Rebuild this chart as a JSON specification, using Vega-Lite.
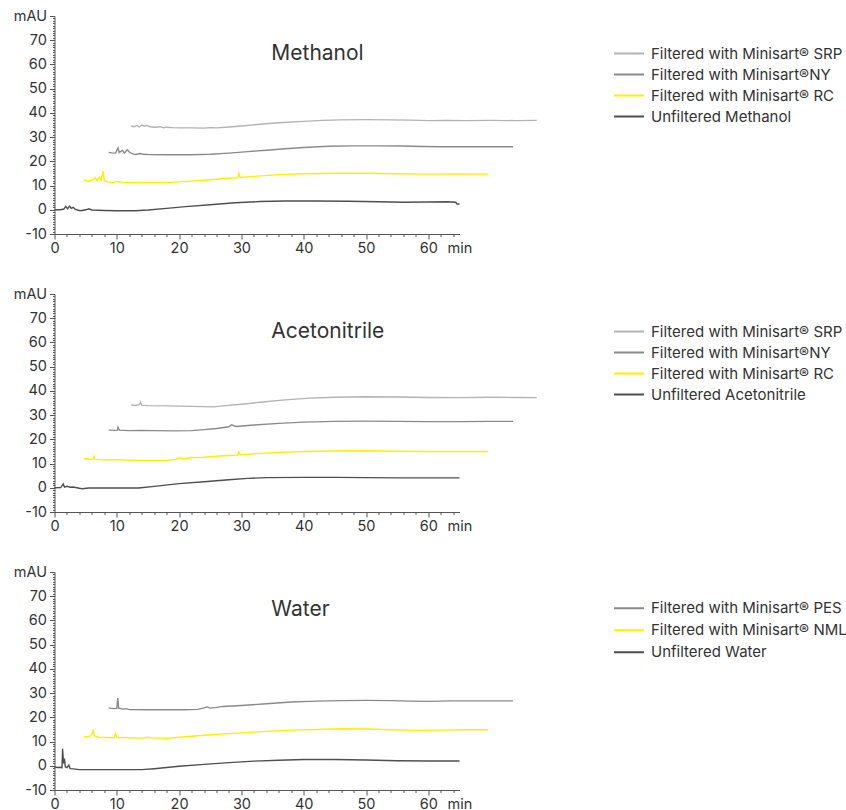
{
  "$schema": "https://vega.github.io/schema/vega-lite/v6.json",
  "padding": {"left": 12.5, "top": 8, "right": 0, "bottom": 4},
  "background": "white",
  "config": {
    "font": "Inter",
    "view": {"stroke": null},
    "axis": {"labelFont": "Inter", "labelFontSize": 14.5, "labelColor": "#333333", "domainColor": "#555555", "tickColor": "#555555", "grid": false, "title": null, "labelOverlap": false, "labelFlush": false},
    "legend": {"labelFont": "Inter", "labelFontSize": 15, "labelColor": "#333333", "labelLimit": 0}
  },
  "datasets": {
    "chrom": [
      {"panel":"Methanol","series":"Filtered with Minisart® SRP","time":12.3,"mAU":34.6},
      {"panel":"Methanol","series":"Filtered with Minisart® SRP","time":12.8,"mAU":34.3},
      {"panel":"Methanol","series":"Filtered with Minisart® SRP","time":13.2,"mAU":34.8},
      {"panel":"Methanol","series":"Filtered with Minisart® SRP","time":13.6,"mAU":34.2},
      {"panel":"Methanol","series":"Filtered with Minisart® SRP","time":14.0,"mAU":35.0},
      {"panel":"Methanol","series":"Filtered with Minisart® SRP","time":14.4,"mAU":34.4},
      {"panel":"Methanol","series":"Filtered with Minisart® SRP","time":14.8,"mAU":34.9},
      {"panel":"Methanol","series":"Filtered with Minisart® SRP","time":15.3,"mAU":34.3},
      {"panel":"Methanol","series":"Filtered with Minisart® SRP","time":16,"mAU":34.1},
      {"panel":"Methanol","series":"Filtered with Minisart® SRP","time":17,"mAU":34.3},
      {"panel":"Methanol","series":"Filtered with Minisart® SRP","time":17.5,"mAU":33.9},
      {"panel":"Methanol","series":"Filtered with Minisart® SRP","time":18,"mAU":34.1},
      {"panel":"Methanol","series":"Filtered with Minisart® SRP","time":19,"mAU":33.9},
      {"panel":"Methanol","series":"Filtered with Minisart® SRP","time":20,"mAU":33.8},
      {"panel":"Methanol","series":"Filtered with Minisart® SRP","time":22,"mAU":33.8},
      {"panel":"Methanol","series":"Filtered with Minisart® SRP","time":24,"mAU":33.7},
      {"panel":"Methanol","series":"Filtered with Minisart® SRP","time":25,"mAU":33.9},
      {"panel":"Methanol","series":"Filtered with Minisart® SRP","time":26,"mAU":33.8},
      {"panel":"Methanol","series":"Filtered with Minisart® SRP","time":28,"mAU":34.2},
      {"panel":"Methanol","series":"Filtered with Minisart® SRP","time":30,"mAU":34.6},
      {"panel":"Methanol","series":"Filtered with Minisart® SRP","time":33,"mAU":35.3},
      {"panel":"Methanol","series":"Filtered with Minisart® SRP","time":36,"mAU":35.9},
      {"panel":"Methanol","series":"Filtered with Minisart® SRP","time":40,"mAU":36.5},
      {"panel":"Methanol","series":"Filtered with Minisart® SRP","time":43,"mAU":36.9},
      {"panel":"Methanol","series":"Filtered with Minisart® SRP","time":46,"mAU":37.1},
      {"panel":"Methanol","series":"Filtered with Minisart® SRP","time":50,"mAU":37.2},
      {"panel":"Methanol","series":"Filtered with Minisart® SRP","time":54,"mAU":37.1},
      {"panel":"Methanol","series":"Filtered with Minisart® SRP","time":57,"mAU":37.0},
      {"panel":"Methanol","series":"Filtered with Minisart® SRP","time":60,"mAU":36.8},
      {"panel":"Methanol","series":"Filtered with Minisart® SRP","time":63,"mAU":36.9},
      {"panel":"Methanol","series":"Filtered with Minisart® SRP","time":66,"mAU":36.8},
      {"panel":"Methanol","series":"Filtered with Minisart® SRP","time":70,"mAU":36.9},
      {"panel":"Methanol","series":"Filtered with Minisart® SRP","time":74,"mAU":36.8},
      {"panel":"Methanol","series":"Filtered with Minisart® SRP","time":77.4,"mAU":36.9},

      {"panel":"Methanol","series":"Filtered with Minisart®NY","time":8.7,"mAU":23.7},
      {"panel":"Methanol","series":"Filtered with Minisart®NY","time":9.2,"mAU":23.5},
      {"panel":"Methanol","series":"Filtered with Minisart®NY","time":9.8,"mAU":23.4},
      {"panel":"Methanol","series":"Filtered with Minisart®NY","time":10.2,"mAU":25.5},
      {"panel":"Methanol","series":"Filtered with Minisart®NY","time":10.4,"mAU":23.6},
      {"panel":"Methanol","series":"Filtered with Minisart®NY","time":10.9,"mAU":24.6},
      {"panel":"Methanol","series":"Filtered with Minisart®NY","time":11.2,"mAU":23.4},
      {"panel":"Methanol","series":"Filtered with Minisart®NY","time":11.7,"mAU":24.8},
      {"panel":"Methanol","series":"Filtered with Minisart®NY","time":12.1,"mAU":23.6},
      {"panel":"Methanol","series":"Filtered with Minisart®NY","time":12.5,"mAU":23.2},
      {"panel":"Methanol","series":"Filtered with Minisart®NY","time":13,"mAU":22.8},
      {"panel":"Methanol","series":"Filtered with Minisart®NY","time":13.8,"mAU":23.2},
      {"panel":"Methanol","series":"Filtered with Minisart®NY","time":14.2,"mAU":22.9},
      {"panel":"Methanol","series":"Filtered with Minisart®NY","time":15,"mAU":22.8},
      {"panel":"Methanol","series":"Filtered with Minisart®NY","time":18,"mAU":22.7},
      {"panel":"Methanol","series":"Filtered with Minisart®NY","time":22,"mAU":22.7},
      {"panel":"Methanol","series":"Filtered with Minisart®NY","time":25,"mAU":22.9},
      {"panel":"Methanol","series":"Filtered with Minisart®NY","time":28,"mAU":23.4},
      {"panel":"Methanol","series":"Filtered with Minisart®NY","time":31,"mAU":24.0},
      {"panel":"Methanol","series":"Filtered with Minisart®NY","time":34,"mAU":24.6},
      {"panel":"Methanol","series":"Filtered with Minisart®NY","time":37,"mAU":25.2},
      {"panel":"Methanol","series":"Filtered with Minisart®NY","time":40,"mAU":25.7},
      {"panel":"Methanol","series":"Filtered with Minisart®NY","time":44,"mAU":26.2},
      {"panel":"Methanol","series":"Filtered with Minisart®NY","time":48,"mAU":26.4},
      {"panel":"Methanol","series":"Filtered with Minisart®NY","time":52,"mAU":26.4},
      {"panel":"Methanol","series":"Filtered with Minisart®NY","time":56,"mAU":26.3},
      {"panel":"Methanol","series":"Filtered with Minisart®NY","time":59,"mAU":26.1},
      {"panel":"Methanol","series":"Filtered with Minisart®NY","time":62,"mAU":26.0},
      {"panel":"Methanol","series":"Filtered with Minisart®NY","time":66,"mAU":26.0},
      {"panel":"Methanol","series":"Filtered with Minisart®NY","time":70,"mAU":26.0},
      {"panel":"Methanol","series":"Filtered with Minisart®NY","time":73.6,"mAU":26.0},

      {"panel":"Methanol","series":"Filtered with Minisart® RC","time":4.7,"mAU":12.3},
      {"panel":"Methanol","series":"Filtered with Minisart® RC","time":5.5,"mAU":11.8},
      {"panel":"Methanol","series":"Filtered with Minisart® RC","time":6.3,"mAU":12.5},
      {"panel":"Methanol","series":"Filtered with Minisart® RC","time":6.5,"mAU":13.3},
      {"panel":"Methanol","series":"Filtered with Minisart® RC","time":6.8,"mAU":12.0},
      {"panel":"Methanol","series":"Filtered with Minisart® RC","time":7.2,"mAU":13.4},
      {"panel":"Methanol","series":"Filtered with Minisart® RC","time":7.5,"mAU":12.2},
      {"panel":"Methanol","series":"Filtered with Minisart® RC","time":7.8,"mAU":16.0},
      {"panel":"Methanol","series":"Filtered with Minisart® RC","time":8.0,"mAU":12.0},
      {"panel":"Methanol","series":"Filtered with Minisart® RC","time":8.5,"mAU":11.5},
      {"panel":"Methanol","series":"Filtered with Minisart® RC","time":9.5,"mAU":11.2},
      {"panel":"Methanol","series":"Filtered with Minisart® RC","time":10,"mAU":11.7},
      {"panel":"Methanol","series":"Filtered with Minisart® RC","time":11,"mAU":11.3},
      {"panel":"Methanol","series":"Filtered with Minisart® RC","time":15,"mAU":11.2},
      {"panel":"Methanol","series":"Filtered with Minisart® RC","time":18,"mAU":11.2},
      {"panel":"Methanol","series":"Filtered with Minisart® RC","time":20,"mAU":11.5},
      {"panel":"Methanol","series":"Filtered with Minisart® RC","time":24,"mAU":12.2},
      {"panel":"Methanol","series":"Filtered with Minisart® RC","time":28,"mAU":13.0},
      {"panel":"Methanol","series":"Filtered with Minisart® RC","time":29.4,"mAU":13.2},
      {"panel":"Methanol","series":"Filtered with Minisart® RC","time":29.6,"mAU":15.0},
      {"panel":"Methanol","series":"Filtered with Minisart® RC","time":29.8,"mAU":13.3},
      {"panel":"Methanol","series":"Filtered with Minisart® RC","time":32,"mAU":13.8},
      {"panel":"Methanol","series":"Filtered with Minisart® RC","time":36,"mAU":14.5},
      {"panel":"Methanol","series":"Filtered with Minisart® RC","time":40,"mAU":14.9},
      {"panel":"Methanol","series":"Filtered with Minisart® RC","time":45,"mAU":15.1},
      {"panel":"Methanol","series":"Filtered with Minisart® RC","time":50,"mAU":15.1},
      {"panel":"Methanol","series":"Filtered with Minisart® RC","time":55,"mAU":14.9},
      {"panel":"Methanol","series":"Filtered with Minisart® RC","time":60,"mAU":14.7},
      {"panel":"Methanol","series":"Filtered with Minisart® RC","time":64,"mAU":14.8},
      {"panel":"Methanol","series":"Filtered with Minisart® RC","time":69.6,"mAU":14.7},

      {"panel":"Methanol","series":"Unfiltered Methanol","time":0,"mAU":0},
      {"panel":"Methanol","series":"Unfiltered Methanol","time":1,"mAU":0},
      {"panel":"Methanol","series":"Unfiltered Methanol","time":1.5,"mAU":0.3},
      {"panel":"Methanol","series":"Unfiltered Methanol","time":1.8,"mAU":1.4},
      {"panel":"Methanol","series":"Unfiltered Methanol","time":2.1,"mAU":0.4},
      {"panel":"Methanol","series":"Unfiltered Methanol","time":2.4,"mAU":1.5},
      {"panel":"Methanol","series":"Unfiltered Methanol","time":2.7,"mAU":0.6},
      {"panel":"Methanol","series":"Unfiltered Methanol","time":3.0,"mAU":1.0},
      {"panel":"Methanol","series":"Unfiltered Methanol","time":3.3,"mAU":0.3},
      {"panel":"Methanol","series":"Unfiltered Methanol","time":3.8,"mAU":-0.2},
      {"panel":"Methanol","series":"Unfiltered Methanol","time":4.2,"mAU":-0.4},
      {"panel":"Methanol","series":"Unfiltered Methanol","time":4.6,"mAU":-0.2},
      {"panel":"Methanol","series":"Unfiltered Methanol","time":5.2,"mAU":0.1},
      {"panel":"Methanol","series":"Unfiltered Methanol","time":5.5,"mAU":0.4},
      {"panel":"Methanol","series":"Unfiltered Methanol","time":6,"mAU":-0.1},
      {"panel":"Methanol","series":"Unfiltered Methanol","time":8,"mAU":-0.3},
      {"panel":"Methanol","series":"Unfiltered Methanol","time":10,"mAU":-0.4},
      {"panel":"Methanol","series":"Unfiltered Methanol","time":13,"mAU":-0.4},
      {"panel":"Methanol","series":"Unfiltered Methanol","time":15,"mAU":-0.1},
      {"panel":"Methanol","series":"Unfiltered Methanol","time":18,"mAU":0.6},
      {"panel":"Methanol","series":"Unfiltered Methanol","time":21,"mAU":1.3},
      {"panel":"Methanol","series":"Unfiltered Methanol","time":25,"mAU":2.1},
      {"panel":"Methanol","series":"Unfiltered Methanol","time":29,"mAU":2.9},
      {"panel":"Methanol","series":"Unfiltered Methanol","time":33,"mAU":3.4},
      {"panel":"Methanol","series":"Unfiltered Methanol","time":37,"mAU":3.6},
      {"panel":"Methanol","series":"Unfiltered Methanol","time":42,"mAU":3.6},
      {"panel":"Methanol","series":"Unfiltered Methanol","time":47,"mAU":3.5},
      {"panel":"Methanol","series":"Unfiltered Methanol","time":52,"mAU":3.3},
      {"panel":"Methanol","series":"Unfiltered Methanol","time":56,"mAU":3.1},
      {"panel":"Methanol","series":"Unfiltered Methanol","time":60,"mAU":3.2},
      {"panel":"Methanol","series":"Unfiltered Methanol","time":63,"mAU":3.3},
      {"panel":"Methanol","series":"Unfiltered Methanol","time":64.4,"mAU":3.1},
      {"panel":"Methanol","series":"Unfiltered Methanol","time":64.6,"mAU":2.4},
      {"panel":"Methanol","series":"Unfiltered Methanol","time":65,"mAU":2.4},

      {"panel":"Acetonitrile","series":"Filtered with Minisart® SRP","time":12.3,"mAU":34.2},
      {"panel":"Acetonitrile","series":"Filtered with Minisart® SRP","time":13,"mAU":34.0},
      {"panel":"Acetonitrile","series":"Filtered with Minisart® SRP","time":13.6,"mAU":34.3},
      {"panel":"Acetonitrile","series":"Filtered with Minisart® SRP","time":13.8,"mAU":35.4},
      {"panel":"Acetonitrile","series":"Filtered with Minisart® SRP","time":14,"mAU":34.1},
      {"panel":"Acetonitrile","series":"Filtered with Minisart® SRP","time":15,"mAU":33.9},
      {"panel":"Acetonitrile","series":"Filtered with Minisart® SRP","time":18,"mAU":33.8},
      {"panel":"Acetonitrile","series":"Filtered with Minisart® SRP","time":22,"mAU":33.6},
      {"panel":"Acetonitrile","series":"Filtered with Minisart® SRP","time":25.5,"mAU":33.4},
      {"panel":"Acetonitrile","series":"Filtered with Minisart® SRP","time":27,"mAU":33.8},
      {"panel":"Acetonitrile","series":"Filtered with Minisart® SRP","time":30,"mAU":34.5},
      {"panel":"Acetonitrile","series":"Filtered with Minisart® SRP","time":33,"mAU":35.3},
      {"panel":"Acetonitrile","series":"Filtered with Minisart® SRP","time":37,"mAU":36.3},
      {"panel":"Acetonitrile","series":"Filtered with Minisart® SRP","time":41,"mAU":37.0},
      {"panel":"Acetonitrile","series":"Filtered with Minisart® SRP","time":45,"mAU":37.4},
      {"panel":"Acetonitrile","series":"Filtered with Minisart® SRP","time":50,"mAU":37.6},
      {"panel":"Acetonitrile","series":"Filtered with Minisart® SRP","time":55,"mAU":37.5},
      {"panel":"Acetonitrile","series":"Filtered with Minisart® SRP","time":60,"mAU":37.3},
      {"panel":"Acetonitrile","series":"Filtered with Minisart® SRP","time":65,"mAU":37.2},
      {"panel":"Acetonitrile","series":"Filtered with Minisart® SRP","time":70,"mAU":37.4},
      {"panel":"Acetonitrile","series":"Filtered with Minisart® SRP","time":74,"mAU":37.3},
      {"panel":"Acetonitrile","series":"Filtered with Minisart® SRP","time":77.4,"mAU":37.2},

      {"panel":"Acetonitrile","series":"Filtered with Minisart®NY","time":8.7,"mAU":23.8},
      {"panel":"Acetonitrile","series":"Filtered with Minisart®NY","time":9.5,"mAU":23.7},
      {"panel":"Acetonitrile","series":"Filtered with Minisart®NY","time":10.1,"mAU":23.8},
      {"panel":"Acetonitrile","series":"Filtered with Minisart®NY","time":10.2,"mAU":25.0},
      {"panel":"Acetonitrile","series":"Filtered with Minisart®NY","time":10.4,"mAU":23.8},
      {"panel":"Acetonitrile","series":"Filtered with Minisart®NY","time":12,"mAU":23.6},
      {"panel":"Acetonitrile","series":"Filtered with Minisart®NY","time":14,"mAU":23.7},
      {"panel":"Acetonitrile","series":"Filtered with Minisart®NY","time":16,"mAU":23.6},
      {"panel":"Acetonitrile","series":"Filtered with Minisart®NY","time":19,"mAU":23.5},
      {"panel":"Acetonitrile","series":"Filtered with Minisart®NY","time":22,"mAU":23.6},
      {"panel":"Acetonitrile","series":"Filtered with Minisart®NY","time":24,"mAU":24.0},
      {"panel":"Acetonitrile","series":"Filtered with Minisart®NY","time":26,"mAU":24.5},
      {"panel":"Acetonitrile","series":"Filtered with Minisart®NY","time":28,"mAU":25.2},
      {"panel":"Acetonitrile","series":"Filtered with Minisart®NY","time":28.4,"mAU":26.0},
      {"panel":"Acetonitrile","series":"Filtered with Minisart®NY","time":28.8,"mAU":25.6},
      {"panel":"Acetonitrile","series":"Filtered with Minisart®NY","time":29.2,"mAU":25.3},
      {"panel":"Acetonitrile","series":"Filtered with Minisart®NY","time":32,"mAU":25.9},
      {"panel":"Acetonitrile","series":"Filtered with Minisart®NY","time":36,"mAU":26.6},
      {"panel":"Acetonitrile","series":"Filtered with Minisart®NY","time":40,"mAU":27.1},
      {"panel":"Acetonitrile","series":"Filtered with Minisart®NY","time":45,"mAU":27.4},
      {"panel":"Acetonitrile","series":"Filtered with Minisart®NY","time":50,"mAU":27.5},
      {"panel":"Acetonitrile","series":"Filtered with Minisart®NY","time":55,"mAU":27.4},
      {"panel":"Acetonitrile","series":"Filtered with Minisart®NY","time":60,"mAU":27.3},
      {"panel":"Acetonitrile","series":"Filtered with Minisart®NY","time":65,"mAU":27.3},
      {"panel":"Acetonitrile","series":"Filtered with Minisart®NY","time":70,"mAU":27.4},
      {"panel":"Acetonitrile","series":"Filtered with Minisart®NY","time":73.6,"mAU":27.4},

      {"panel":"Acetonitrile","series":"Filtered with Minisart® RC","time":4.7,"mAU":12.1},
      {"panel":"Acetonitrile","series":"Filtered with Minisart® RC","time":5.5,"mAU":11.8},
      {"panel":"Acetonitrile","series":"Filtered with Minisart® RC","time":6.2,"mAU":11.9},
      {"panel":"Acetonitrile","series":"Filtered with Minisart® RC","time":6.3,"mAU":13.3},
      {"panel":"Acetonitrile","series":"Filtered with Minisart® RC","time":6.5,"mAU":11.7},
      {"panel":"Acetonitrile","series":"Filtered with Minisart® RC","time":8,"mAU":11.5},
      {"panel":"Acetonitrile","series":"Filtered with Minisart® RC","time":10,"mAU":11.6},
      {"panel":"Acetonitrile","series":"Filtered with Minisart® RC","time":13,"mAU":11.3},
      {"panel":"Acetonitrile","series":"Filtered with Minisart® RC","time":18,"mAU":11.3},
      {"panel":"Acetonitrile","series":"Filtered with Minisart® RC","time":19.5,"mAU":11.8},
      {"panel":"Acetonitrile","series":"Filtered with Minisart® RC","time":20,"mAU":12.3},
      {"panel":"Acetonitrile","series":"Filtered with Minisart® RC","time":21,"mAU":12.0},
      {"panel":"Acetonitrile","series":"Filtered with Minisart® RC","time":22,"mAU":12.5},
      {"panel":"Acetonitrile","series":"Filtered with Minisart® RC","time":24,"mAU":12.6},
      {"panel":"Acetonitrile","series":"Filtered with Minisart® RC","time":27,"mAU":13.2},
      {"panel":"Acetonitrile","series":"Filtered with Minisart® RC","time":29.4,"mAU":13.4},
      {"panel":"Acetonitrile","series":"Filtered with Minisart® RC","time":29.6,"mAU":14.9},
      {"panel":"Acetonitrile","series":"Filtered with Minisart® RC","time":29.8,"mAU":13.6},
      {"panel":"Acetonitrile","series":"Filtered with Minisart® RC","time":33,"mAU":14.2},
      {"panel":"Acetonitrile","series":"Filtered with Minisart® RC","time":36,"mAU":14.6},
      {"panel":"Acetonitrile","series":"Filtered with Minisart® RC","time":40,"mAU":15.0},
      {"panel":"Acetonitrile","series":"Filtered with Minisart® RC","time":45,"mAU":15.2},
      {"panel":"Acetonitrile","series":"Filtered with Minisart® RC","time":50,"mAU":15.3},
      {"panel":"Acetonitrile","series":"Filtered with Minisart® RC","time":55,"mAU":15.1},
      {"panel":"Acetonitrile","series":"Filtered with Minisart® RC","time":60,"mAU":15.0},
      {"panel":"Acetonitrile","series":"Filtered with Minisart® RC","time":65,"mAU":15.0},
      {"panel":"Acetonitrile","series":"Filtered with Minisart® RC","time":69.6,"mAU":15.0},

      {"panel":"Acetonitrile","series":"Unfiltered Acetonitrile","time":0,"mAU":0},
      {"panel":"Acetonitrile","series":"Unfiltered Acetonitrile","time":1,"mAU":0.1},
      {"panel":"Acetonitrile","series":"Unfiltered Acetonitrile","time":1.4,"mAU":1.6},
      {"panel":"Acetonitrile","series":"Unfiltered Acetonitrile","time":1.6,"mAU":0.3},
      {"panel":"Acetonitrile","series":"Unfiltered Acetonitrile","time":2,"mAU":0.6},
      {"panel":"Acetonitrile","series":"Unfiltered Acetonitrile","time":2.5,"mAU":0.2},
      {"panel":"Acetonitrile","series":"Unfiltered Acetonitrile","time":3,"mAU":0.3},
      {"panel":"Acetonitrile","series":"Unfiltered Acetonitrile","time":4,"mAU":-0.2},
      {"panel":"Acetonitrile","series":"Unfiltered Acetonitrile","time":4.5,"mAU":-0.4},
      {"panel":"Acetonitrile","series":"Unfiltered Acetonitrile","time":5.5,"mAU":-0.1},
      {"panel":"Acetonitrile","series":"Unfiltered Acetonitrile","time":8,"mAU":-0.1},
      {"panel":"Acetonitrile","series":"Unfiltered Acetonitrile","time":13.5,"mAU":-0.1},
      {"panel":"Acetonitrile","series":"Unfiltered Acetonitrile","time":16,"mAU":0.6},
      {"panel":"Acetonitrile","series":"Unfiltered Acetonitrile","time":20,"mAU":1.7},
      {"panel":"Acetonitrile","series":"Unfiltered Acetonitrile","time":24,"mAU":2.5},
      {"panel":"Acetonitrile","series":"Unfiltered Acetonitrile","time":28,"mAU":3.3},
      {"panel":"Acetonitrile","series":"Unfiltered Acetonitrile","time":31,"mAU":3.9},
      {"panel":"Acetonitrile","series":"Unfiltered Acetonitrile","time":34,"mAU":4.2},
      {"panel":"Acetonitrile","series":"Unfiltered Acetonitrile","time":40,"mAU":4.3},
      {"panel":"Acetonitrile","series":"Unfiltered Acetonitrile","time":45,"mAU":4.3},
      {"panel":"Acetonitrile","series":"Unfiltered Acetonitrile","time":50,"mAU":4.2},
      {"panel":"Acetonitrile","series":"Unfiltered Acetonitrile","time":55,"mAU":4.1},
      {"panel":"Acetonitrile","series":"Unfiltered Acetonitrile","time":60,"mAU":4.1},
      {"panel":"Acetonitrile","series":"Unfiltered Acetonitrile","time":65,"mAU":4.1},

      {"panel":"Water","series":"Filtered with Minisart® PES","time":8.7,"mAU":23.9},
      {"panel":"Water","series":"Filtered with Minisart® PES","time":9.5,"mAU":23.6},
      {"panel":"Water","series":"Filtered with Minisart® PES","time":10.0,"mAU":23.7},
      {"panel":"Water","series":"Filtered with Minisart® PES","time":10.15,"mAU":28.0},
      {"panel":"Water","series":"Filtered with Minisart® PES","time":10.3,"mAU":23.8},
      {"panel":"Water","series":"Filtered with Minisart® PES","time":11,"mAU":23.4},
      {"panel":"Water","series":"Filtered with Minisart® PES","time":11.5,"mAU":23.6},
      {"panel":"Water","series":"Filtered with Minisart® PES","time":12,"mAU":23.2},
      {"panel":"Water","series":"Filtered with Minisart® PES","time":15,"mAU":23.1},
      {"panel":"Water","series":"Filtered with Minisart® PES","time":18,"mAU":23.1},
      {"panel":"Water","series":"Filtered with Minisart® PES","time":21,"mAU":23.1},
      {"panel":"Water","series":"Filtered with Minisart® PES","time":23,"mAU":23.3},
      {"panel":"Water","series":"Filtered with Minisart® PES","time":24,"mAU":23.9},
      {"panel":"Water","series":"Filtered with Minisart® PES","time":24.5,"mAU":24.3},
      {"panel":"Water","series":"Filtered with Minisart® PES","time":25,"mAU":23.8},
      {"panel":"Water","series":"Filtered with Minisart® PES","time":26,"mAU":24.1},
      {"panel":"Water","series":"Filtered with Minisart® PES","time":27,"mAU":24.5},
      {"panel":"Water","series":"Filtered with Minisart® PES","time":30,"mAU":24.9},
      {"panel":"Water","series":"Filtered with Minisart® PES","time":34,"mAU":25.6},
      {"panel":"Water","series":"Filtered with Minisart® PES","time":38,"mAU":26.3},
      {"panel":"Water","series":"Filtered with Minisart® PES","time":42,"mAU":26.7},
      {"panel":"Water","series":"Filtered with Minisart® PES","time":46,"mAU":26.9},
      {"panel":"Water","series":"Filtered with Minisart® PES","time":50,"mAU":27.0},
      {"panel":"Water","series":"Filtered with Minisart® PES","time":54,"mAU":26.9},
      {"panel":"Water","series":"Filtered with Minisart® PES","time":57,"mAU":26.7},
      {"panel":"Water","series":"Filtered with Minisart® PES","time":60,"mAU":26.6},
      {"panel":"Water","series":"Filtered with Minisart® PES","time":64,"mAU":26.8},
      {"panel":"Water","series":"Filtered with Minisart® PES","time":68,"mAU":26.8},
      {"panel":"Water","series":"Filtered with Minisart® PES","time":73.6,"mAU":26.8},

      {"panel":"Water","series":"Filtered with Minisart® NML","time":4.7,"mAU":12.1},
      {"panel":"Water","series":"Filtered with Minisart® NML","time":5.2,"mAU":11.9},
      {"panel":"Water","series":"Filtered with Minisart® NML","time":5.8,"mAU":12.3},
      {"panel":"Water","series":"Filtered with Minisart® NML","time":6.1,"mAU":13.6},
      {"panel":"Water","series":"Filtered with Minisart® NML","time":6.2,"mAU":14.9},
      {"panel":"Water","series":"Filtered with Minisart® NML","time":6.4,"mAU":12.4},
      {"panel":"Water","series":"Filtered with Minisart® NML","time":7,"mAU":11.8},
      {"panel":"Water","series":"Filtered with Minisart® NML","time":8,"mAU":11.7},
      {"panel":"Water","series":"Filtered with Minisart® NML","time":9.6,"mAU":11.6},
      {"panel":"Water","series":"Filtered with Minisart® NML","time":9.8,"mAU":13.3},
      {"panel":"Water","series":"Filtered with Minisart® NML","time":10,"mAU":11.7},
      {"panel":"Water","series":"Filtered with Minisart® NML","time":12,"mAU":11.6},
      {"panel":"Water","series":"Filtered with Minisart® NML","time":14,"mAU":11.4},
      {"panel":"Water","series":"Filtered with Minisart® NML","time":15,"mAU":11.8},
      {"panel":"Water","series":"Filtered with Minisart® NML","time":15.5,"mAU":11.5},
      {"panel":"Water","series":"Filtered with Minisart® NML","time":18,"mAU":11.3},
      {"panel":"Water","series":"Filtered with Minisart® NML","time":20,"mAU":11.8},
      {"panel":"Water","series":"Filtered with Minisart® NML","time":23,"mAU":12.4},
      {"panel":"Water","series":"Filtered with Minisart® NML","time":26,"mAU":13.0},
      {"panel":"Water","series":"Filtered with Minisart® NML","time":30,"mAU":13.6},
      {"panel":"Water","series":"Filtered with Minisart® NML","time":34,"mAU":14.2},
      {"panel":"Water","series":"Filtered with Minisart® NML","time":38,"mAU":14.7},
      {"panel":"Water","series":"Filtered with Minisart® NML","time":42,"mAU":15.0},
      {"panel":"Water","series":"Filtered with Minisart® NML","time":46,"mAU":15.3},
      {"panel":"Water","series":"Filtered with Minisart® NML","time":50,"mAU":15.2},
      {"panel":"Water","series":"Filtered with Minisart® NML","time":54,"mAU":14.9},
      {"panel":"Water","series":"Filtered with Minisart® NML","time":58,"mAU":14.6},
      {"panel":"Water","series":"Filtered with Minisart® NML","time":62,"mAU":14.7},
      {"panel":"Water","series":"Filtered with Minisart® NML","time":66,"mAU":14.9},
      {"panel":"Water","series":"Filtered with Minisart® NML","time":69.6,"mAU":14.9},

      {"panel":"Water","series":"Unfiltered Water","time":0,"mAU":-0.5},
      {"panel":"Water","series":"Unfiltered Water","time":0.5,"mAU":-0.7},
      {"panel":"Water","series":"Unfiltered Water","time":1,"mAU":-0.6},
      {"panel":"Water","series":"Unfiltered Water","time":1.2,"mAU":-0.8},
      {"panel":"Water","series":"Unfiltered Water","time":1.3,"mAU":7.0},
      {"panel":"Water","series":"Unfiltered Water","time":1.45,"mAU":1.0},
      {"panel":"Water","series":"Unfiltered Water","time":1.6,"mAU":3.0},
      {"panel":"Water","series":"Unfiltered Water","time":1.75,"mAU":-0.5},
      {"panel":"Water","series":"Unfiltered Water","time":2,"mAU":-0.8},
      {"panel":"Water","series":"Unfiltered Water","time":2.3,"mAU":0.3},
      {"panel":"Water","series":"Unfiltered Water","time":2.5,"mAU":-1.2},
      {"panel":"Water","series":"Unfiltered Water","time":3,"mAU":-1.3},
      {"panel":"Water","series":"Unfiltered Water","time":4,"mAU":-1.6},
      {"panel":"Water","series":"Unfiltered Water","time":6,"mAU":-1.6},
      {"panel":"Water","series":"Unfiltered Water","time":10,"mAU":-1.6},
      {"panel":"Water","series":"Unfiltered Water","time":14,"mAU":-1.6},
      {"panel":"Water","series":"Unfiltered Water","time":16,"mAU":-1.2},
      {"panel":"Water","series":"Unfiltered Water","time":20,"mAU":-0.2},
      {"panel":"Water","series":"Unfiltered Water","time":24,"mAU":0.6},
      {"panel":"Water","series":"Unfiltered Water","time":28,"mAU":1.3},
      {"panel":"Water","series":"Unfiltered Water","time":32,"mAU":1.9},
      {"panel":"Water","series":"Unfiltered Water","time":36,"mAU":2.3},
      {"panel":"Water","series":"Unfiltered Water","time":40,"mAU":2.6},
      {"panel":"Water","series":"Unfiltered Water","time":45,"mAU":2.6},
      {"panel":"Water","series":"Unfiltered Water","time":50,"mAU":2.4},
      {"panel":"Water","series":"Unfiltered Water","time":55,"mAU":2.1},
      {"panel":"Water","series":"Unfiltered Water","time":60,"mAU":2.0},
      {"panel":"Water","series":"Unfiltered Water","time":65,"mAU":2.0}
    ]
  },
  "spacing": 31,
  "resolve": {"scale": {"color": "independent"}},
  "vconcat": [
    {
      "width": 405, "height": 218,
      "resolve": {"axis": {"x": "independent", "y": "independent"}},
      "layer": [
        {
          "data": {"name": "chrom"},
          "transform": [{"filter": "datum.panel === 'Methanol'"}],
          "mark": {"type": "line", "strokeWidth": 1.4},
          "encoding": {
            "x": {"field": "time", "type": "quantitative", "scale": {"domain": [0, 65], "nice": false, "zero": false},
              "axis": {"orient": "bottom", "values": [0,10,20,30,40,50,60,65],
                "labelExpr": "datum.value == 65 ? 'min' : toString(datum.value)",
                "tickSize": 5, "labelPadding": 2,
                "tickOpacity": {"condition": {"test": "datum.value == 65", "value": 0}, "value": 1}}},
            "y": {"field": "mAU", "type": "quantitative", "scale": {"domain": [-10, 80], "nice": false, "zero": false},
              "axis": {"orient": "left", "values": [-10,0,10,20,30,40,50,60,70,80],
                "labelExpr": "datum.value == 80 ? 'mAU' : toString(datum.value)",
                "tickSize": 5, "labelPadding": 3}},
            "color": {"field": "series", "type": "nominal",
              "scale": {"domain": ["Filtered with Minisart® SRP", "Filtered with Minisart®NY", "Filtered with Minisart® RC", "Unfiltered Methanol"], "range": ["#b3b3b3", "#8a8a8a", "#ffee00", "#4f4f4f"]},
              "legend": {"title": null, "orient": "none", "legendX": 558.5, "legendY": 27, "symbolType": "stroke", "symbolSize": 900, "symbolStrokeWidth": 2, "clipHeight": 21, "rowPadding": 0, "labelOffset": 6, "padding": 0, "labelLimit": 0}}
          }
        },
        {
          "data": {"values": [{"solvent": "Methanol"}]},
          "mark": {"type": "text", "align": "left", "baseline": "middle", "fontSize": 21, "color": "#333333", "font": "Inter"},
          "encoding": {
            "x": {"datum": 34.8, "type": "quantitative", "axis": {"orient": "bottom", "labels": false, "domain": false, "tickSize": 2.5, "values": [2,4,6,8,12,14,16,18,22,24,26,28,32,34,36,38,42,44,46,48,52,54,56,58,62,64]}},
            "y": {"datum": 64.5, "type": "quantitative", "axis": {"orient": "left", "labels": false, "domain": false, "tickSize": 2, "values": [-9,-8,-7,-6,-5,-4,-3,-2,-1,1,2,3,4,5,6,7,8,9,11,12,13,14,15,16,17,18,19,21,22,23,24,25,26,27,28,29,31,32,33,34,35,36,37,38,39,41,42,43,44,45,46,47,48,49,51,52,53,54,55,56,57,58,59,61,62,63,64,65,66,67,68,69,71,72,73,74,75,76,77,78,79]}},
            "text": {"field": "solvent"}}
        }
      ]
    },
    {
      "width": 405, "height": 218,
      "resolve": {"axis": {"x": "independent", "y": "independent"}},
      "layer": [
        {
          "data": {"name": "chrom"},
          "transform": [{"filter": "datum.panel === 'Acetonitrile'"}],
          "mark": {"type": "line", "strokeWidth": 1.4},
          "encoding": {
            "x": {"field": "time", "type": "quantitative", "scale": {"domain": [0, 65], "nice": false, "zero": false},
              "axis": {"orient": "bottom", "values": [0,10,20,30,40,50,60,65],
                "labelExpr": "datum.value == 65 ? 'min' : toString(datum.value)",
                "tickSize": 5, "labelPadding": 2,
                "tickOpacity": {"condition": {"test": "datum.value == 65", "value": 0}, "value": 1}}},
            "y": {"field": "mAU", "type": "quantitative", "scale": {"domain": [-10, 80], "nice": false, "zero": false},
              "axis": {"orient": "left", "values": [-10,0,10,20,30,40,50,60,70,80],
                "labelExpr": "datum.value == 80 ? 'mAU' : toString(datum.value)",
                "tickSize": 5, "labelPadding": 3}},
            "color": {"field": "series", "type": "nominal",
              "scale": {"domain": ["Filtered with Minisart® SRP", "Filtered with Minisart®NY", "Filtered with Minisart® RC", "Unfiltered Acetonitrile"], "range": ["#b3b3b3", "#8a8a8a", "#ffee00", "#4f4f4f"]},
              "legend": {"title": null, "orient": "none", "legendX": 558.5, "legendY": 27, "symbolType": "stroke", "symbolSize": 900, "symbolStrokeWidth": 2, "clipHeight": 21, "rowPadding": 0, "labelOffset": 6, "padding": 0, "labelLimit": 0}}
          }
        },
        {
          "data": {"values": [{"solvent": "Acetonitrile"}]},
          "mark": {"type": "text", "align": "left", "baseline": "middle", "fontSize": 21, "color": "#333333", "font": "Inter"},
          "encoding": {
            "x": {"datum": 34.8, "type": "quantitative", "axis": {"orient": "bottom", "labels": false, "domain": false, "tickSize": 2.5, "values": [2,4,6,8,12,14,16,18,22,24,26,28,32,34,36,38,42,44,46,48,52,54,56,58,62,64]}},
            "y": {"datum": 64.5, "type": "quantitative", "axis": {"orient": "left", "labels": false, "domain": false, "tickSize": 2, "values": [-9,-8,-7,-6,-5,-4,-3,-2,-1,1,2,3,4,5,6,7,8,9,11,12,13,14,15,16,17,18,19,21,22,23,24,25,26,27,28,29,31,32,33,34,35,36,37,38,39,41,42,43,44,45,46,47,48,49,51,52,53,54,55,56,57,58,59,61,62,63,64,65,66,67,68,69,71,72,73,74,75,76,77,78,79]}},
            "text": {"field": "solvent"}}
        }
      ]
    },
    {
      "width": 405, "height": 218,
      "resolve": {"axis": {"x": "independent", "y": "independent"}},
      "layer": [
        {
          "data": {"name": "chrom"},
          "transform": [{"filter": "datum.panel === 'Water'"}],
          "mark": {"type": "line", "strokeWidth": 1.4},
          "encoding": {
            "x": {"field": "time", "type": "quantitative", "scale": {"domain": [0, 65], "nice": false, "zero": false},
              "axis": {"orient": "bottom", "values": [0,10,20,30,40,50,60,65],
                "labelExpr": "datum.value == 65 ? 'min' : toString(datum.value)",
                "tickSize": 5, "labelPadding": 2,
                "tickOpacity": {"condition": {"test": "datum.value == 65", "value": 0}, "value": 1}}},
            "y": {"field": "mAU", "type": "quantitative", "scale": {"domain": [-10, 80], "nice": false, "zero": false},
              "axis": {"orient": "left", "values": [-10,0,10,20,30,40,50,60,70,80],
                "labelExpr": "datum.value == 80 ? 'mAU' : toString(datum.value)",
                "tickSize": 5, "labelPadding": 3}},
            "color": {"field": "series", "type": "nominal",
              "scale": {"domain": ["Filtered with Minisart® PES", "Filtered with Minisart® NML", "Unfiltered Water"], "range": ["#8a8a8a", "#ffee00", "#4f4f4f"]},
              "legend": {"title": null, "orient": "none", "legendX": 558.5, "legendY": 25.5, "symbolType": "stroke", "symbolSize": 900, "symbolStrokeWidth": 2, "clipHeight": 21.5, "rowPadding": 0, "labelOffset": 6, "padding": 0, "labelLimit": 0}}
          }
        },
        {
          "data": {"values": [{"solvent": "Water"}]},
          "mark": {"type": "text", "align": "left", "baseline": "middle", "fontSize": 21, "color": "#333333", "font": "Inter"},
          "encoding": {
            "x": {"datum": 34.8, "type": "quantitative", "axis": {"orient": "bottom", "labels": false, "domain": false, "tickSize": 2.5, "values": [2,4,6,8,12,14,16,18,22,24,26,28,32,34,36,38,42,44,46,48,52,54,56,58,62,64]}},
            "y": {"datum": 64.5, "type": "quantitative", "axis": {"orient": "left", "labels": false, "domain": false, "tickSize": 2, "values": [-9,-8,-7,-6,-5,-4,-3,-2,-1,1,2,3,4,5,6,7,8,9,11,12,13,14,15,16,17,18,19,21,22,23,24,25,26,27,28,29,31,32,33,34,35,36,37,38,39,41,42,43,44,45,46,47,48,49,51,52,53,54,55,56,57,58,59,61,62,63,64,65,66,67,68,69,71,72,73,74,75,76,77,78,79]}},
            "text": {"field": "solvent"}}
        }
      ]
    }
  ]
}
